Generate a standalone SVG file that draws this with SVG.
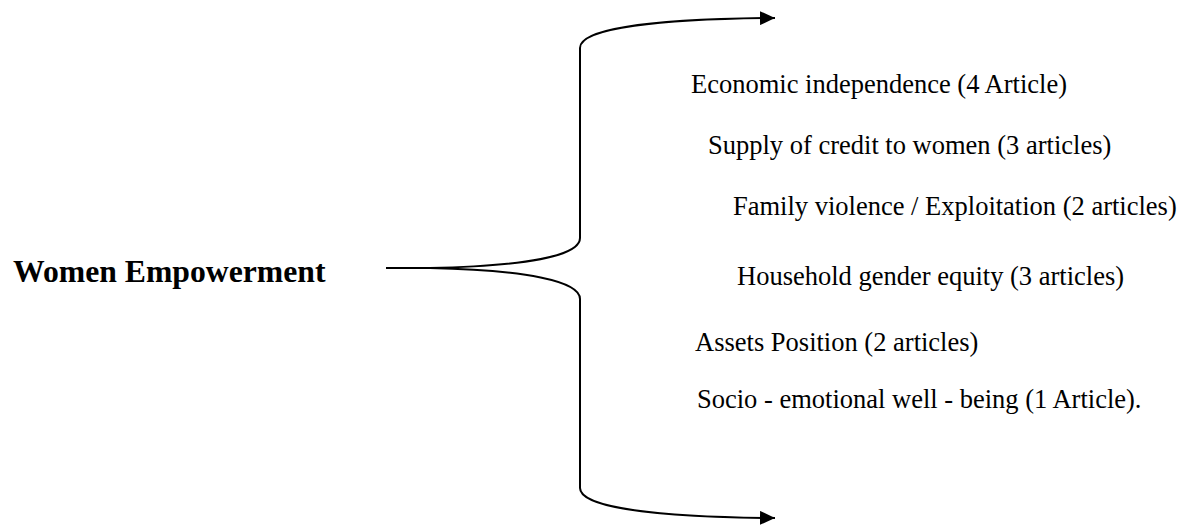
<svg xmlns="http://www.w3.org/2000/svg" width="1190" height="525" viewBox="0 0 1190 525">
<defs>
<style>
.lbl{font-family:"Liberation Serif","Times New Roman",serif;font-size:26.5px;fill:#000}
.title{font-family:"Liberation Serif","Times New Roman",serif;font-size:31.7px;font-weight:bold;fill:#000}
.conn{fill:none;stroke:#000;stroke-width:2}
</style>
<marker id="arr" markerWidth="15" markerHeight="14" refX="15" refY="7" orient="auto" markerUnits="userSpaceOnUse" viewBox="0 0 15 14">
<path d="M0,0 L15,7 L0,14 z" fill="#000"/>
</marker>
</defs>
<rect width="1190" height="525" fill="#fff"/>
<g id="connectors">
<path class="conn" d="M386,268 L430,268 C525,266 580,256 580,238 L580,48 C580,28 660,19 775,18" marker-end="url(#arr)"/>
<path class="conn" d="M386,268 L430,268 C525,270 580,281 580,299 L580,488 C580,508 660,517 775,518" marker-end="url(#arr)"/>
</g>
<g id="node-women"><text class="title" x="13" y="282">Women Empowerment</text></g>
<g id="node-economic"><text class="lbl" x="691" y="93">Economic independence (4 Article)</text></g>
<g id="node-credit"><text class="lbl" x="708" y="154">Supply of credit to women (3 articles)</text></g>
<g id="node-violence"><text class="lbl" x="733" y="215">Family violence / Exploitation (2 articles)</text></g>
<g id="node-household"><text class="lbl" x="737" y="285">Household gender equity (3 articles)</text></g>
<g id="node-assets"><text class="lbl" x="695" y="351">Assets Position (2 articles)</text></g>
<g id="node-socio"><text class="lbl" x="697" y="408">Socio - emotional well - being (1 Article).</text></g>
</svg>
